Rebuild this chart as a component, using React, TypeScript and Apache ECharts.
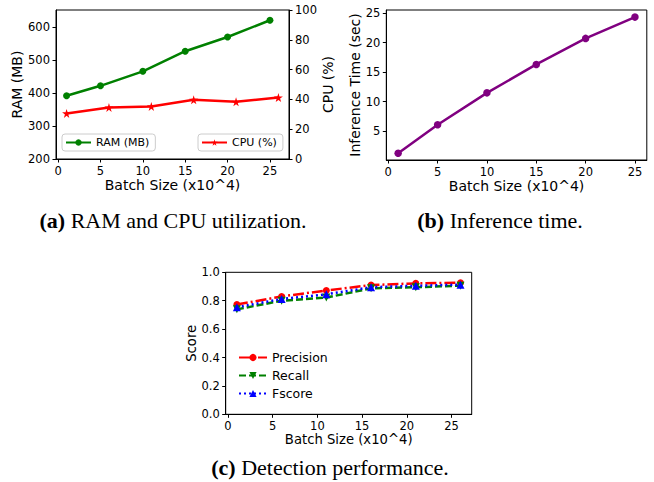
import React, { useEffect, useRef } from 'react';
import * as echarts from 'echarts';

// ---- data ----
const batchRam = [1, 5, 10, 15, 20, 25];
const ramMB = [392, 422, 466, 527, 570, 621];
const batchCpu = [1, 6, 11, 16, 21, 26];
const cpuPct = [30.6, 34.6, 35.3, 39.7, 38.4, 41.3];
const batchInf = [1, 5, 10, 15, 20, 25];
const infSec = [1.3, 6.1, 11.5, 16.3, 20.7, 24.3];
const batchScore = [1, 6, 11, 16, 21, 26];
const precision = [0.773, 0.83, 0.872, 0.91, 0.922, 0.927];
const recall = [0.739, 0.8, 0.822, 0.887, 0.895, 0.906];
const fscore = [0.754, 0.812, 0.845, 0.895, 0.905, 0.913];
const xTicks = [0, 5, 10, 15, 20, 25];
const ramTicks = [200, 300, 400, 500, 600];
const infTicks = [5, 10, 15, 20, 25];
const captions = [
  { tag: '(a)', text: ' RAM and CPU utilization.' },
  { tag: '(b)', text: ' Inference time.' },
  { tag: '(c)', text: ' Detection performance.' },
];

const FONT = 'DejaVu Sans';
const SERIF = 'Liberation Serif';
const STAR = 'path://M50,0 L61,35 L98,35 L68,57 L79,91 L50,70 L21,91 L32,57 L2,35 L39,35 Z';
const TRI_DOWN = 'path://M0,0 L100,0 L50,87 Z';
const TRI_UP = 'path://M50,0 L100,87 L0,87 Z';

const zip = (xs: number[], ys: number[]) => xs.map((x, i) => [x, ys[i]]);

function axis(gridIndex: number, min: number, max: number, extra: any = {}) {
  const { axisLabel, axisTick, ...rest } = extra;
  return {
    type: 'value',
    gridIndex,
    min,
    max,
    axisLine: { show: true, onZero: false, lineStyle: { color: '#000', width: 1 } },
    axisTick: { show: true, inside: false, length: 3.5, lineStyle: { color: '#000', width: 1 }, ...(axisTick || {}) },
    axisLabel: { color: '#000', fontSize: 11.5, fontFamily: FONT, margin: 6, ...(axisLabel || {}) },
    splitLine: { show: false },
    nameLocation: 'middle',
    nameTextStyle: { color: '#000', fontSize: 14, fontFamily: FONT },
    ...rest,
  };
}

export default function App() {
  const ref = useRef<HTMLDivElement>(null);
  useEffect(() => {
    if (!ref.current) return;
    const chart = echarts.init(ref.current, undefined, { renderer: 'svg' });
    const gridBox = { show: true, borderColor: '#000', borderWidth: 1, backgroundColor: 'transparent', containLabel: false };
    const option: any = {
      animation: false,
      backgroundColor: '#fff',
      grid: [
        { ...gridBox, left: 56, top: 10, width: 233, height: 149 },
        { ...gridBox, left: 386.3, top: 10, width: 260.5, height: 150 },
        { ...gridBox, left: 225.7, top: 272.3, width: 246, height: 142 },
      ],
      xAxis: [
        axis(0, -0.25, 27.25, {
          name: 'Batch Size (x10^4)', nameGap: 19,
          axisLabel: { customValues: xTicks }, axisTick: { customValues: xTicks },
        }),
        axis(1, -0.2, 26.2, {
          name: 'Batch Size (x10^4)', nameGap: 19,
          axisLabel: { customValues: xTicks }, axisTick: { customValues: xTicks },
        }),
        axis(2, -0.25, 27.25, {
          name: 'Batch Size (x10^4)', nameGap: 17,
          nameTextStyle: { color: '#000', fontSize: 13.2, fontFamily: FONT },
          axisLabel: { customValues: xTicks }, axisTick: { customValues: xTicks },
        }),
      ],
      yAxis: [
        axis(0, 200, 652, {
          name: 'RAM (MB)', nameGap: 31, nameRotate: 90,
          axisLabel: { customValues: ramTicks }, axisTick: { customValues: ramTicks },
        }),
        axis(0, 0, 100, {
          name: 'CPU (%)', nameGap: 31, nameRotate: 90, position: 'right', interval: 20,
        }),
        axis(1, 0.15, 25.5, {
          name: 'Inference Time (sec)', nameGap: 23, nameRotate: 90,
          axisLabel: { customValues: infTicks }, axisTick: { customValues: infTicks },
        }),
        axis(2, 0, 1, {
          name: 'Score', nameGap: 26, nameRotate: 90, interval: 0.2,
          nameTextStyle: { color: '#000', fontSize: 13.2, fontFamily: FONT },
          axisLabel: { formatter: (v: number) => v.toFixed(1) },
        }),
      ],
      legend: [
        {
          data: ['RAM (MB)'], left: 62, top: 134, orient: 'horizontal',
          backgroundColor: '#fff', borderColor: '#cccccc', borderWidth: 1, borderRadius: 3,
          padding: [3, 6, 3, 3], itemWidth: 25, itemHeight: 8,
          textStyle: { color: '#000', fontSize: 11, fontFamily: FONT },
        },
        {
          data: ['CPU (%)'], left: 198, top: 134, orient: 'horizontal',
          backgroundColor: '#fff', borderColor: '#cccccc', borderWidth: 1, borderRadius: 3,
          padding: [3, 6, 3, 3], itemWidth: 25, itemHeight: 8,
          textStyle: { color: '#000', fontSize: 11, fontFamily: FONT },
        },
        {
          data: ['Precision', 'Recall', 'Fscore'], left: 233, top: 346, orient: 'vertical',
          itemGap: 5, itemWidth: 28, itemHeight: 9,
          textStyle: { color: '#000', fontSize: 12.5, fontFamily: FONT },
        },
      ],
      series: [
        {
          name: 'RAM (MB)', type: 'line', xAxisIndex: 0, yAxisIndex: 0,
          data: zip(batchRam, ramMB), symbol: 'circle', symbolSize: 7,
          lineStyle: { color: '#008000', width: 2.5 }, itemStyle: { color: '#008000' },
        },
        {
          name: 'CPU (%)', type: 'line', xAxisIndex: 0, yAxisIndex: 1,
          data: zip(batchCpu, cpuPct), symbol: STAR, symbolSize: 9,
          lineStyle: { color: '#ff0000', width: 2.5 }, itemStyle: { color: '#ff0000' },
        },
        {
          name: 'Inference', type: 'line', xAxisIndex: 1, yAxisIndex: 2,
          data: zip(batchInf, infSec), symbol: 'circle', symbolSize: 7.5,
          lineStyle: { color: '#800080', width: 2.5 }, itemStyle: { color: '#800080' },
        },
        {
          name: 'Precision', type: 'line', xAxisIndex: 2, yAxisIndex: 3,
          data: zip(batchScore, precision), symbol: 'circle', symbolSize: 7,
          lineStyle: { color: '#ff0000', width: 2.5, type: [11, 3, 2, 3] }, itemStyle: { color: '#ff0000' },
        },
        {
          name: 'Recall', type: 'line', xAxisIndex: 2, yAxisIndex: 3,
          data: zip(batchScore, recall), symbol: TRI_DOWN, symbolSize: 8,
          lineStyle: { color: '#008000', width: 2.5, type: [7, 3] }, itemStyle: { color: '#008000' },
        },
        {
          name: 'Fscore', type: 'line', xAxisIndex: 2, yAxisIndex: 3,
          data: zip(batchScore, fscore), symbol: TRI_UP, symbolSize: 8,
          lineStyle: { color: '#0000ff', width: 2.5, type: [2, 3] }, itemStyle: { color: '#0000ff' },
        },
      ],
      graphic: [
        { x: 173, y: 220 },
        { x: 500, y: 220 },
        { x: 330, y: 467 },
      ].map((p, i) => ({
        type: 'text',
        x: p.x,
        y: p.y,
        style: {
          text: `{b|${captions[i].tag}}${captions[i].text}`,
          font: `22px "${SERIF}"`,
          fontFamily: SERIF,
          fontSize: 22,
          fill: '#000',
          align: 'center',
          verticalAlign: 'middle',
          rich: { b: { fontWeight: 'bold', fontFamily: SERIF, fontSize: 22, fill: '#000' } },
        },
      })),
    };
    chart.setOption(option);
    return () => chart.dispose();
  }, []);
  return <div ref={ref} style={{ position: 'absolute', left: 0, top: 0, width: 654, height: 482 }} />;
}
